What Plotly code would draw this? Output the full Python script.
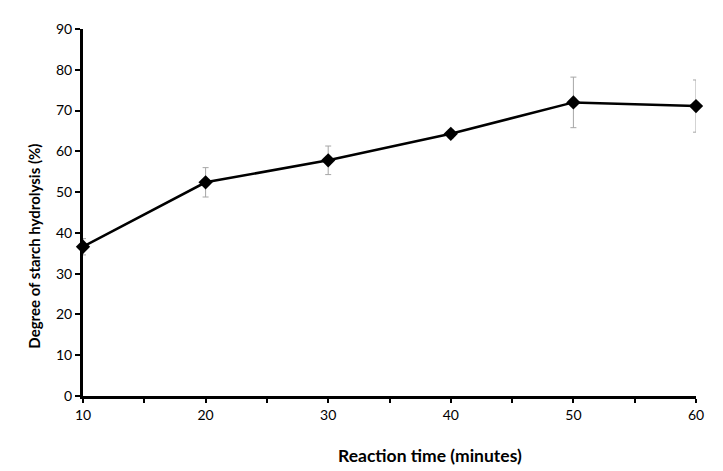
import plotly.graph_objects as go

reaction_time = [10, 20, 30, 40, 50, 60]
hydrolysis = [36.6, 52.4, 57.8, 64.3, 72.0, 71.1]
error = [2.0, 3.6, 3.5, 1.0, 6.2, 6.4]

x_tickvals = [10, 15, 20, 25, 30, 35, 40, 45, 50, 55, 60]
x_ticktext = ["10", "", "20", "", "30", "", "40", "", "50", "", "60"]

font_family = "Lato, Open Sans, sans-serif"

fig = go.Figure()
fig.add_trace(go.Scatter(
    x=reaction_time, y=hydrolysis,
    mode="lines+markers",
    line=dict(color="black", width=2.5),
    marker=dict(symbol="diamond", size=11, color="black"),
    error_y=dict(type="data", array=error, visible=True, color="#a6a6a6", thickness=1, width=3),
    cliponaxis=False,
    showlegend=False,
))

# page body has an 8px margin; compensate so the plot area lands at x 83-696, y 25-396
fig.update_layout(
    width=715, height=463,
    margin=dict(l=75, r=27, t=17, b=75),
    paper_bgcolor="white", plot_bgcolor="white",
    font=dict(family=font_family, size=14, color="black"),
    xaxis=dict(
        range=[10, 60], tickvals=x_tickvals, ticktext=x_ticktext,
        showgrid=False, zeroline=False,
        showline=True, linecolor="black", linewidth=3,
        ticks="outside", ticklen=4, tickwidth=2, tickcolor="black",
        tickfont=dict(size=14, family=font_family),
    ),
    yaxis=dict(
        range=[0, 90], dtick=10,
        showgrid=False, zeroline=False,
        showline=True, linecolor="black", linewidth=3,
        ticks="outside", ticklen=5, tickwidth=2, tickcolor="black",
        tickfont=dict(size=14, family=font_family),
    ),
    annotations=[
        dict(text="<b>Reaction time (minutes)</b>", xref="paper", yref="paper",
             x=(430 - 83) / (696 - 83), y=-(456 - 396) / (396 - 25),
             xanchor="center", yanchor="middle", showarrow=False,
             font=dict(size=17.5, family=font_family)),
        dict(text="<b>Degree of starch hydrolysis (%)</b>", xref="paper", yref="paper",
             x=-(83 - 34) / (696 - 83), y=(396 - 245) / (396 - 25),
             xanchor="center", yanchor="middle", textangle=-90, showarrow=False,
             font=dict(size=15, family=font_family)),
    ],
)

fig.write_html("out.html")
